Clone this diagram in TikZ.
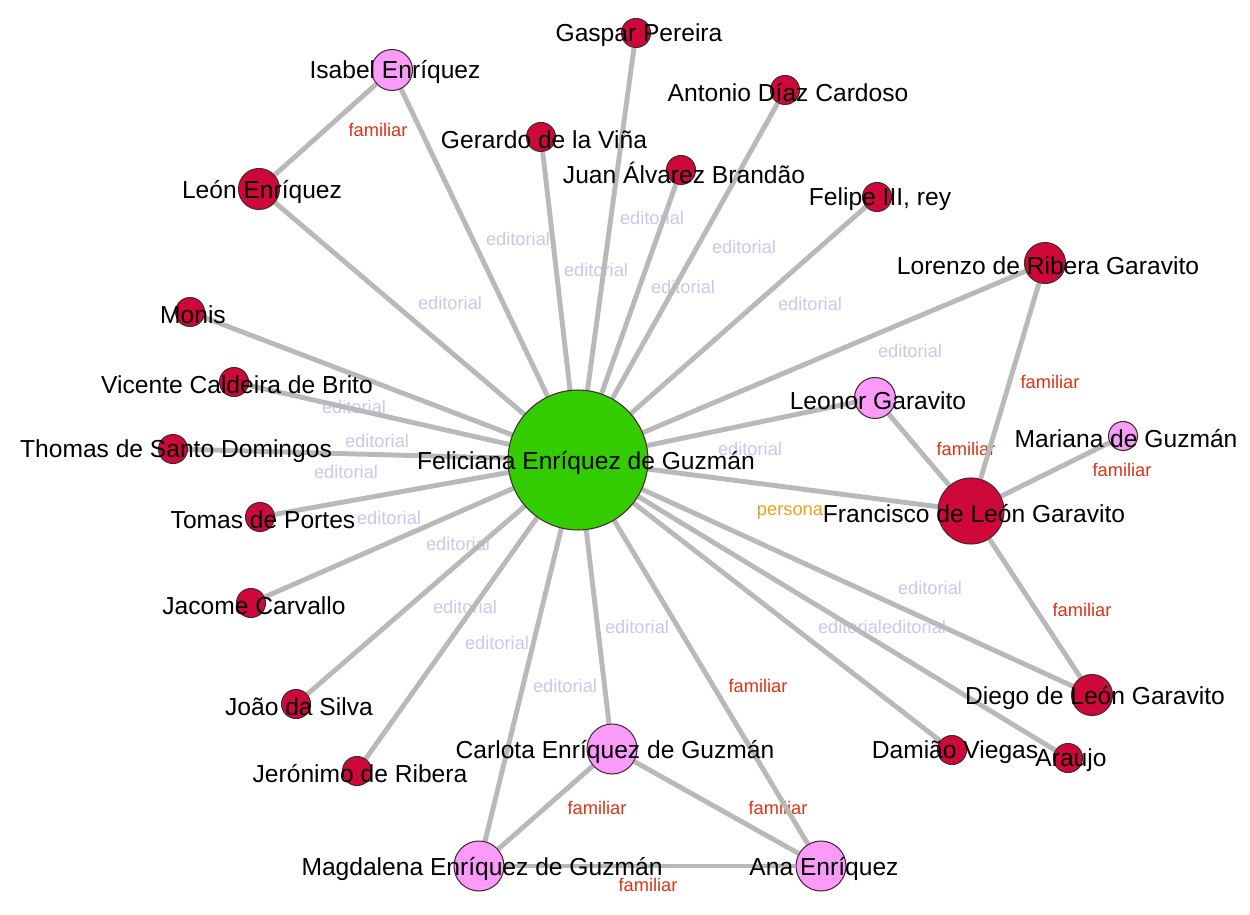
\documentclass[tikz,border=0pt]{standalone}
\usepackage{fontspec}
\setmainfont{Liberation Sans}
\usetikzlibrary{positioning}
\definecolor{nodered}{RGB}{206,8,56}
\definecolor{nodepink}{RGB}{250,155,250}
\definecolor{nodegreen}{RGB}{51,204,0}
\definecolor{rimcolor}{RGB}{70,40,50}
\definecolor{edgegray}{RGB}{185,185,185}
\definecolor{edlabel}{RGB}{200,200,240}
\definecolor{famlabel}{RGB}{225,50,20}
\definecolor{perlabel}{RGB}{240,160,20}
\pgfdeclarelayer{bottom}
\pgfdeclarelayer{edges}
\pgfsetlayers{bottom,edges,main}
\tikzset{
person/.style = {draw=rimcolor, line width=0.6pt, circle, inner sep=0pt},
redsmall/.style = {person, fill=nodered, minimum size=0.58cm},
redmid/.style = {person, fill=nodered, minimum size=0.82cm},
redbig/.style = {person, fill=nodered, minimum size=1.32cm},
pinksmall/.style = {person, fill=nodepink, minimum size=0.58cm},
pinkmid/.style = {person, fill=nodepink, minimum size=0.82cm},
pinkbig/.style = {person, fill=nodepink, minimum size=1.0cm},
hub/.style = {person, fill=nodegreen, minimum size=2.8cm},
who/.style = {font=\fontsize{14}{16.8}\selectfont, text=black, inner sep=0pt, xshift=0.06cm, yshift=-0.05cm},
edge/.style = {draw=edgegray, line width=2.8pt},
ed/.style = {font=\fontsize{10.4}{12.5}\selectfont, text=edlabel, inner sep=0pt},
fam/.style = {ed, text=famlabel},
per/.style = {ed, text=perlabel}
}
\begin{document}
\begin{tikzpicture}[x=0.02cm, y=-0.02cm]
  \useasboundingbox (0,0) rectangle (1250,915);
  % people
  \node [hub, label={[who, xshift=0.1cm]center:Feliciana Enríquez de Guzmán}] (fel) at (578,460) {};
  \node [pinkmid, label={[who]center:Isabel Enríquez}] (isabel) at (392,70) {};
  \node [redmid, label={[who]center:León Enríquez}] (leon) at (259,189) {};
  \node [redsmall, label={[who]center:Gerardo de la Viña}] (gerardo) at (541,137) {};
  \node [redsmall, label={[who]center:Gaspar Pereira}] (gaspar) at (636,33) {};
  \node [redsmall, label={[who]center:Antonio Díaz Cardoso}] (antonio) at (785,90) {};
  \node [redsmall, label={[who]center:Juan Álvarez Brandão}] (juan) at (681,170) {};
  \node [redsmall, label={[who]center:{Felipe III, rey}}] (felipe) at (877,197) {};
  \node [redmid, label={[who]center:Lorenzo de Ribera Garavito}] (lorenzo) at (1045,263) {};
  \node [pinkmid, label={[who]center:Leonor Garavito}] (leonor) at (875,398) {};
  \node [pinksmall, label={[who]center:Mariana de Guzmán}] (mariana) at (1123,436) {};
  \node [redbig, label={[who]center:Francisco de León Garavito}] (francisco) at (971,511) {};
  \node [redmid, label={[who]center:Diego de León Garavito}] (diego) at (1092,695) {};
  \node [redsmall, label={[who]center:Araujo}] (araujo) at (1068,758) {};
  \node [redsmall, label={[who]center:Damião Viegas}] (damiao) at (952,750) {};
  \node [pinkbig, label={[who]center:Ana Enríquez}] (ana) at (821,866) {};
  \node [pinkbig, label={[who]center:Carlota Enríquez de Guzmán}] (carlota) at (612,749) {};
  \node [pinkbig, label={[who]center:Magdalena Enríquez de Guzmán}] (magdalena) at (479,866) {};
  \node [redsmall, label={[who]center:Jerónimo de Ribera}] (jeronimo) at (357,771) {};
  \node [redsmall, label={[who]center:João da Silva}] (joao) at (296,704) {};
  \node [redsmall, label={[who]center:Jacome Carvallo}] (jacome) at (251,603) {};
  \node [redsmall, label={[who]center:Tomas de Portes}] (tomas) at (260,517) {};
  \node [redsmall, label={[who]center:Thomas de Santo Domingos}] (thomas) at (173,449) {};
  \node [redsmall, label={[who]center:Vicente Caldeira de Brito}] (vicente) at (234,382) {};
  \node [redsmall, label={[who]center:Monis}] (monis) at (190,312) {};
  % links
  \begin{pgfonlayer}{edges}
    \foreach \n in {isabel,leon,gerardo,gaspar,juan,antonio,felipe,lorenzo,leonor,francisco,
      diego,araujo,damiao,ana,carlota,magdalena,jeronimo,joao,jacome,tomas,thomas,vicente,monis}
      \draw [edge] (fel) -- (\n);
    \draw [edge] (isabel) -- (leon);
    \draw [edge] (lorenzo) -- (francisco);
    \draw [edge] (leonor) -- (francisco);
    \draw [edge] (mariana) -- (francisco);
    \draw [edge] (francisco) -- (diego);
    \draw [edge] (carlota) -- (ana);
    \draw [edge] (carlota) -- (magdalena);
    \draw [edge] (magdalena) -- (ana);
  \end{pgfonlayer}
  % link labels
  \begin{pgfonlayer}{bottom}
    \foreach \x/\y [count=\i] in {518/239,450/303,596/270,652/218,744/247,683/287,810/304,
      910/351,750/449,354/407,377/441,346/472,389/518,458/544,465/607,497/643,565/686,
      637/627,930/588,850/627,914/627}
      \node [ed] (ed\i) at (\x,\y) {editorial};
    \foreach \x/\y [count=\i] in {378/130,1050/382,966/449,1122/470,1082/610,758/686,
      778/808,597/808,648/885}
      \node [fam] (fam\i) at (\x,\y) {familiar};
    \node [per] (per1) at (790,512) {persona};
  \end{pgfonlayer}
\end{tikzpicture}
\end{document}
